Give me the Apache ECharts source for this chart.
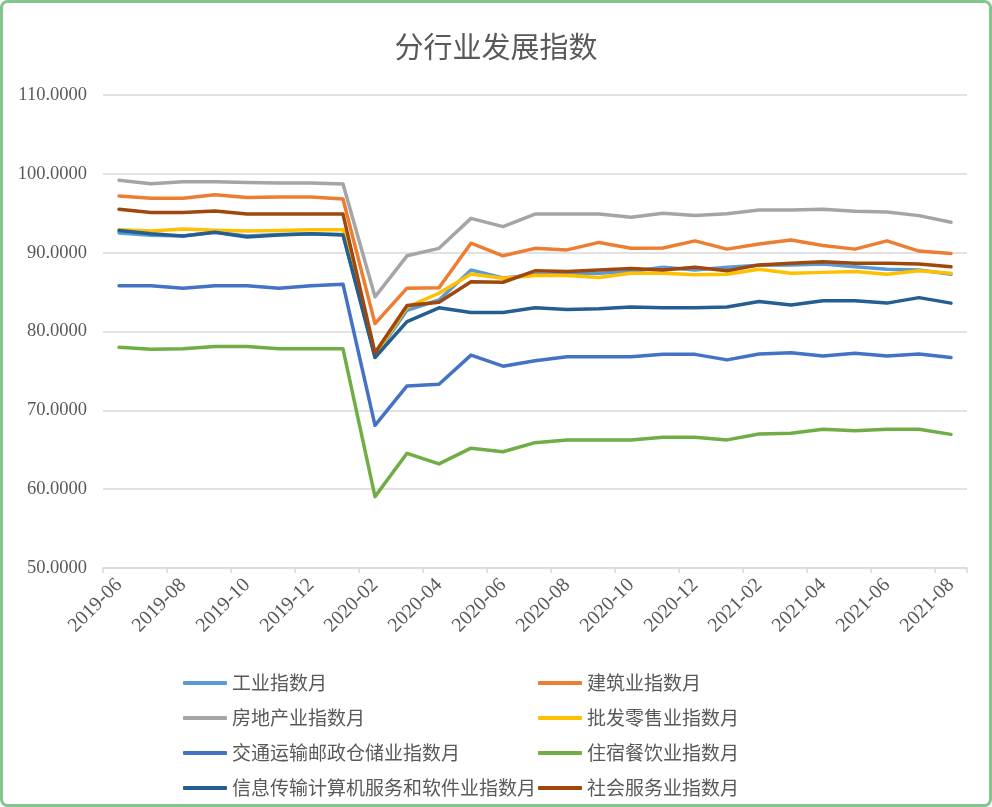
<!DOCTYPE html>
<html>
<head>
<meta charset="utf-8">
<script src="https://cdn.jsdelivr.net/npm/echarts@6/dist/echarts.min.js"></script>
<style>
html,body{margin:0;padding:0;background:#fff;}
#chart{width:992px;height:807px;}
</style>
</head>
<body>
<div id="chart"></div>
<script>
const categories = ['2019-06','2019-07','2019-08','2019-09','2019-10','2019-11','2019-12','2020-01','2020-02','2020-03','2020-04','2020-05','2020-06','2020-07','2020-08','2020-09','2020-10','2020-11','2020-12','2021-01','2021-02','2021-03','2021-04','2021-05','2021-06','2021-07','2021-08'];

const gongye     = [92.5,92.2,92.1,92.6,92.1,92.3,92.4,92.3,76.9,82.7,84.0,87.8,86.8,87.2,87.3,87.4,87.6,88.15,87.8,88.15,88.4,88.45,88.55,88.2,87.9,87.8,87.25];
const jianzhu    = [97.2,96.9,96.9,97.35,97.0,97.05,97.05,96.8,81.0,85.5,85.55,91.2,89.6,90.55,90.35,91.3,90.55,90.6,91.5,90.45,91.1,91.6,90.9,90.45,91.5,90.2,89.9];
const fangdichan = [99.2,98.75,99.0,99.0,98.9,98.85,98.85,98.7,84.4,89.6,90.55,94.35,93.3,94.9,94.9,94.9,94.5,95.0,94.7,94.95,95.4,95.4,95.5,95.25,95.15,94.7,93.85];
const pifa       = [92.9,92.75,93.0,92.85,92.75,92.8,92.9,92.9,77.0,83.1,84.85,87.3,86.75,87.1,87.1,86.85,87.4,87.4,87.2,87.25,87.9,87.4,87.5,87.6,87.25,87.7,87.4];
const jiaotong   = [85.8,85.8,85.5,85.8,85.8,85.5,85.8,86.0,68.1,73.1,73.3,77.0,75.6,76.3,76.8,76.8,76.8,77.1,77.1,76.4,77.15,77.3,76.9,77.25,76.9,77.15,76.7];
const zhusu      = [78.0,77.75,77.8,78.1,78.1,77.8,77.8,77.8,59.05,64.55,63.2,65.2,64.75,65.9,66.25,66.25,66.25,66.6,66.6,66.25,67.0,67.1,67.6,67.4,67.6,67.6,66.95];
const xinxi      = [92.8,92.4,92.1,92.6,92.0,92.25,92.4,92.25,76.7,81.25,83.0,82.4,82.4,83.0,82.8,82.9,83.1,83.0,83.0,83.1,83.8,83.35,83.9,83.9,83.6,84.3,83.6];
const shehui     = [95.5,95.1,95.1,95.3,94.9,94.9,94.9,94.9,77.3,83.3,83.7,86.3,86.25,87.7,87.6,87.8,88.0,87.8,88.15,87.7,88.45,88.65,88.85,88.65,88.65,88.55,88.2];

const seriesNames = ['工业指数月','建筑业指数月','房地产业指数月','批发零售业指数月','交通运输邮政仓储业指数月','住宿餐饮业指数月','信息传输计算机服务和软件业指数月','社会服务业指数月'];
const seriesData = [gongye, jianzhu, fangdichan, pifa, jiaotong, zhusu, xinxi, shehui];
const colors = ['#5b9bd5','#ed7d31','#a5a5a5','#ffc000','#4472c4','#70ad47','#255e91','#9e480e'];

const chart = echarts.init(document.getElementById('chart'), null, {renderer:'canvas'});
const legendText = {color:'#595959', fontSize:19, fontFamily:'"Noto Sans CJK SC", sans-serif', lineHeight:20};
chart.setOption({
  animation:false,
  color: colors,
  title:{
    text:'分行业发展指数', left:'center', top:27,
    textStyle:{color:'#595959', fontSize:29, fontWeight:'normal', fontFamily:'"Noto Sans CJK SC", sans-serif'}
  },
  graphic:[{
    type:'rect', shape:{x:1.5, y:1.5, width:989, height:804, r:6},
    style:{fill:'none', stroke:'#82c68e', lineWidth:3}, z:100
  }],
  legend:[
    {orient:'vertical', left:183, top:673, padding:0, height:130, itemWidth:44, itemHeight:4, itemGap:15, icon:'roundRect',
     data:[seriesNames[0],seriesNames[2],seriesNames[4],seriesNames[6]], textStyle:legendText},
    {orient:'vertical', left:538, top:673, padding:0, height:130, itemWidth:44, itemHeight:4, itemGap:15, icon:'roundRect',
     data:[seriesNames[1],seriesNames[3],seriesNames[5],seriesNames[7]], textStyle:legendText}
  ],
  grid:{left:103, right:25, top:95, bottom:239, containLabel:false},
  xAxis:{
    type:'category', data:categories, boundaryGap:true,
    axisLine:{lineStyle:{color:'#d9d9d9', width:1.5}},
    axisTick:{show:true, interval:1, length:5, lineStyle:{color:'#d9d9d9', width:1.5}},
    axisLabel:{interval:1, rotate:45, color:'#595959', fontSize:20, fontFamily:'"Liberation Serif", serif', margin:14}
  },
  yAxis:{
    type:'value', min:50, max:110, interval:10,
    axisLine:{show:false}, axisTick:{show:false},
    splitLine:{lineStyle:{color:'#d9d9d9', width:1.5}},
    axisLabel:{color:'#595959', fontSize:18.5, fontFamily:'"Liberation Serif", serif', margin:16,
      formatter:function(v){return v.toFixed(4);}}
  },
  series: seriesNames.map(function(n,i){
    return {name:n, type:'line', data:seriesData[i], symbol:'none', smooth:false,
      lineStyle:{width:3.5, cap:'round', join:'round'}};
  })
});
</script>
</body>
</html>
